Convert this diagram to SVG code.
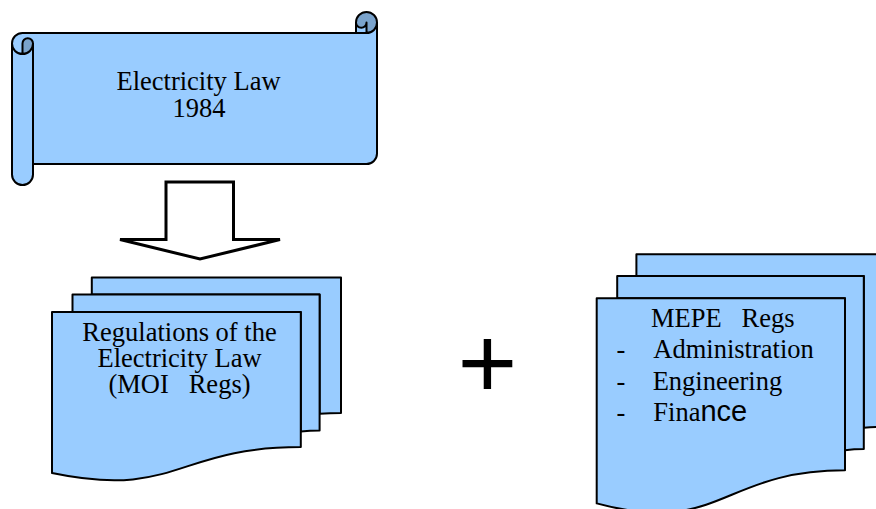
<svg xmlns="http://www.w3.org/2000/svg" width="876" height="509" viewBox="0 0 876 509">
  <style>
    .shape { fill: #99ccff; stroke: #000; stroke-width: 2; stroke-linejoin: round; }
    .dark { fill: #7aa3cc; stroke: none; }
    .line { fill: none; stroke: #000; stroke-width: 2; stroke-linejoin: round; }
    .serif { font-family: "Liberation Serif", "Times New Roman", serif; font-size: 26.5px; fill: #000; }
    .sans { font-family: "Liberation Sans", Arial, sans-serif; fill: #000; }
  </style>
  <rect width="876" height="509" fill="#fff"/>

  <!-- Scroll: Electricity Law 1984 -->
  <g id="law">
    <path fill="#99ccff" d="M377,22.5 A10.5,10.5 0 0 1 366.5,33 L366.5,22.5 A5.25,5.25 0 0 1 356,22.5 L356,33 L22.5,33 A10.5,10.5 0 0 0 12,43.5 L12,174.5 A10.5,10.5 0 0 0 33,174.5 L33,164 L366.5,164 A10.5,10.5 0 0 0 377,153.5 Z M22.5,54 A10.5,10.5 0 0 0 33,43.5 A5.25,5.25 0 0 0 22.5,43.5 Z"/>
    <path class="dark" d="M22.5,54 A10.5,10.5 0 0 0 33,43.5 A5.25,5.25 0 0 0 22.5,43.5 Z M366.5,33 A10.5,10.5 0 1 0 356,22.5 A5.25,5.25 0 0 0 366.5,22.5 Z"/>
    <path class="line" d="M12,43.5 A10.5,10.5 0 0 1 22.5,33 L356,33 L356,22.5 A10.5,10.5 0 0 1 377,22.5 L377,153.5 A10.5,10.5 0 0 1 366.5,164 L33,164 L33,174.5 A10.5,10.5 0 0 1 12,174.5 Z M356,33 L366.5,33 A10.5,10.5 0 0 0 377,22.5 M366.5,33 L366.5,22.5 A5.25,5.25 0 0 1 356,22.5 M22.5,54 L22.5,43.5 A5.25,5.25 0 0 1 33,43.5 A10.5,10.5 0 0 1 12,43.5 M33,43.5 L33,164"/>
    <text class="serif" text-anchor="middle" x="198.5" y="89.5">Electricity Law</text>
    <text class="serif" text-anchor="middle" x="199" y="116.5">1984</text>
  </g>

  <!-- Connector: hollow block arrow -->
  <g id="connectors">
    <path d="M166,182 L233.5,182 L233.5,239.5 L280,239.5 L200,259 L120,239.5 L166,239.5 Z" fill="#fff" stroke="#000" stroke-width="3" stroke-linejoin="miter"/>
  </g>

  <!-- Multi-document: MOI regulations -->
  <g id="moi-regs">
    <path class="shape" d="M91.8,294.6 L91.8,277.5 L341,277.5 L341,413 C330,413 319.6,413.7 319.6,413.7 L319.6,294.6 Z"/>
    <path class="shape" d="M72.5,312.1 L72.5,294.6 L319.6,294.6 L319.6,430.5 C310,430.5 300.8,431.4 300.8,431.4 L300.8,312.1 Z"/>
    <path class="shape" d="M52,473.1 C176.4,499.1 176.4,447.1 300.8,447.1 L300.8,312.1 L52,312.1 Z"/>
    <text class="serif" text-anchor="middle" x="179.5" y="341">Regulations of the</text>
    <text class="serif" text-anchor="middle" x="179.5" y="367">Electricity Law</text>
    <text class="serif" text-anchor="middle" x="179.5" y="392.5" xml:space="preserve">(MOI   Regs)</text>
  </g>

  <!-- Plus sign -->
  <g id="plus">
    <text class="sans" x="457.6" y="397.8" font-size="102.5">+</text>
  </g>

  <!-- Multi-document: MEPE regulations -->
  <g id="mepe-regs">
    <path class="shape" d="M636.4,276 L636.4,254.2 L885,254.2 L885,426.8 C875,426.8 863.8,427.7 863.8,427.7 L863.8,276 Z"/>
    <path class="shape" d="M617.2,298.3 L617.2,276 L863.8,276 L863.8,449 C854,449 845,450.2 845,450.2 L845,298.3 Z"/>
    <path class="shape" d="M596.7,503.4 C720.9,536.5 720.9,470.3 845,470.3 L845,298.3 L596.7,298.3 Z"/>
    <text class="serif" x="651" y="327" xml:space="preserve">MEPE   Regs</text>
    <text class="serif" x="616.5" y="358">-</text>
    <text class="serif" x="653.3" y="358">Administration</text>
    <text class="serif" x="616.5" y="390">-</text>
    <text class="serif" x="652.7" y="390">Engineering</text>
    <text class="serif" x="616.5" y="421">-</text>
    <text x="653.3" y="421"><tspan class="serif">Fina</tspan><tspan class="sans" font-size="29">nce</tspan></text>
  </g>
</svg>
